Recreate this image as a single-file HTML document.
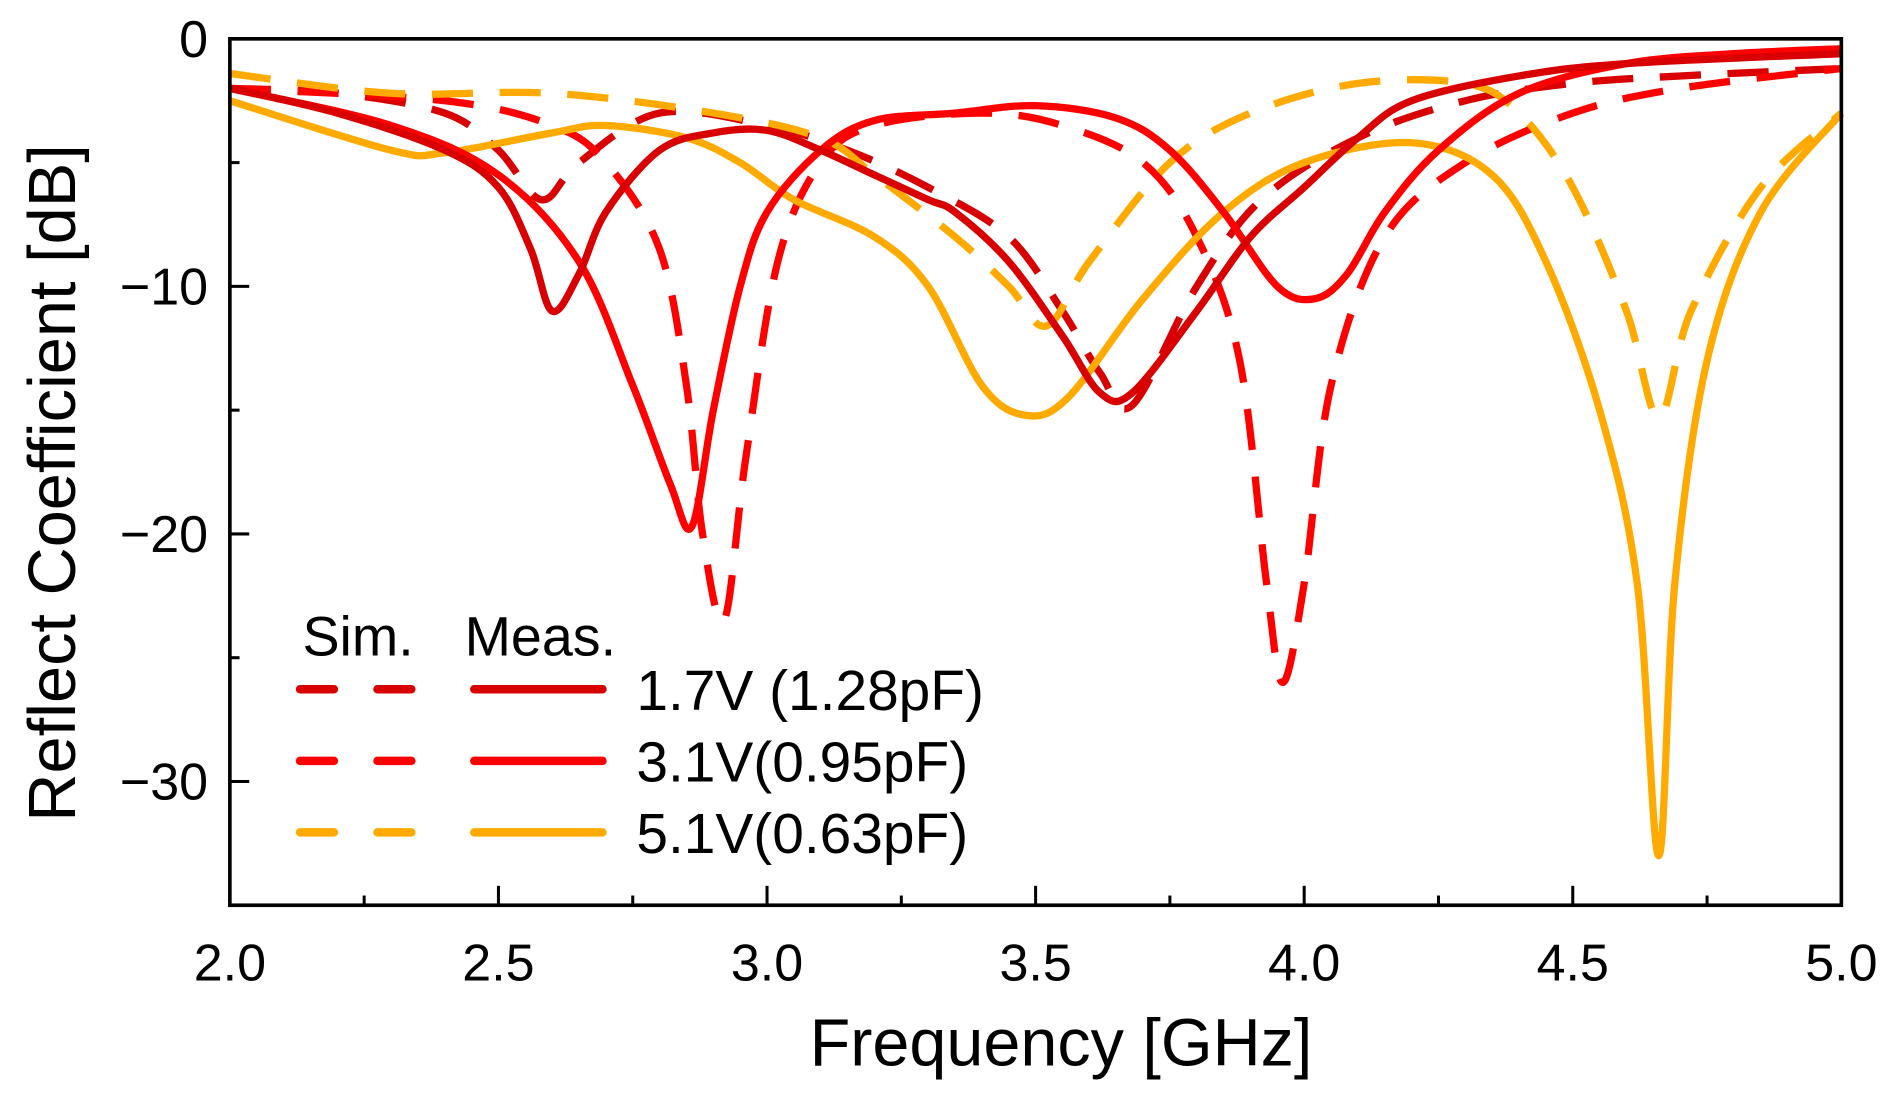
<!DOCTYPE html>
<html><head><meta charset="utf-8"><style>
html,body{margin:0;padding:0;background:#fff;}
svg{display:block;}
text{font-family:"Liberation Sans",sans-serif;fill:#000;}
</style></head><body>
<svg id="chart" width="1897" height="1100" viewBox="0 0 1568 906.5" preserveAspectRatio="none" xmlns="http://www.w3.org/2000/svg">
<g id="series"></g>
<rect x="190" y="32" width="1332" height="714" fill="none" stroke="#000" stroke-width="3"/>
<g id="ticks"></g>
<text transform="translate(62,398) rotate(-90)" text-anchor="middle" font-size="55">Reflect Coefficient [dB]</text>
<text x="877" y="878" text-anchor="middle" font-size="55">Frequency [GHz]</text>
<g>
<text x="250" y="540" font-size="46">Sim.</text>
<text x="384" y="540" font-size="46">Meas.</text>
<g>
<line x1="248" y1="568" x2="358" y2="568" stroke="#d80000" stroke-width="7" stroke-linecap="round" stroke-dasharray="28,36"/>
<line x1="392" y1="568" x2="498" y2="568" stroke="#d80000" stroke-width="7" stroke-linecap="round"/>
<text x="526" y="585" font-size="47">1.7V (1.28pF)</text></g>
<g>
<line x1="248" y1="627" x2="358" y2="627" stroke="#ff0000" stroke-width="7" stroke-linecap="round" stroke-dasharray="28,36"/>
<line x1="392" y1="627" x2="498" y2="627" stroke="#ff0000" stroke-width="7" stroke-linecap="round"/>
<text x="526" y="644" font-size="47">3.1V(0.95pF)</text></g>
<g>
<line x1="248" y1="686" x2="358" y2="686" stroke="#ffaa00" stroke-width="7" stroke-linecap="round" stroke-dasharray="28,36"/>
<line x1="392" y1="686" x2="498" y2="686" stroke="#ffaa00" stroke-width="7" stroke-linecap="round"/>
<text x="526" y="703" font-size="47">5.1V(0.63pF)</text></g>
</g>
</svg>
<script>
const xTicks = [2.0, 2.5, 3.0, 3.5, 4.0, 4.5, 5.0];
const yTicks = [0, -10, -20, -30];
const yTickLabels = ["0", "\u221210", "\u221220", "\u221230"];

const sim17F = [2.0,2.2,2.4,2.5,2.58,2.65,2.8,3.0,3.15,3.3,3.45,3.55,3.62,3.68,3.8,3.92,4.1,4.3,4.5,4.7,5.0];
const sim17V = [-2,-2.2,-3,-4.5,-6.5,-5,-3,-3.5,-4.5,-6,-8,-11,-13.5,-14.8,-10,-6.5,-4,-2.5,-1.8,-1.5,-1.2];
const meas17F = [2.0,2.2,2.4,2.5,2.56,2.6,2.65,2.7,2.8,2.9,3.0,3.1,3.2,3.3,3.35,3.45,3.55,3.62,3.68,3.8,3.9,4.0,4.1,4.2,4.4,4.6,5.0];
const meas17V = [-2,-3,-4.5,-6,-8.5,-11,-9.5,-7,-4.5,-3.8,-3.7,-4.5,-5.5,-6.5,-7,-9,-12,-14.3,-14.3,-11,-8,-6,-4,-2.5,-1.5,-1,-0.6];
const sim31F = [2.0,2.4,2.6,2.7,2.8,2.85,2.88,2.92,2.96,3.02,3.1,3.2,3.4,3.55,3.7,3.8,3.88,3.93,3.96,4.0,4.05,4.15,4.3,4.5,4.7,5.0];
const sim31V = [-2,-2.5,-3.5,-5,-8.5,-14,-20,-23.5,-17,-9,-5,-3.5,-3,-3.5,-5,-8,-13,-22,-26,-22,-14,-8,-5,-3,-2,-1.2];
const meas31F = [2.0,2.3,2.5,2.65,2.75,2.82,2.86,2.9,2.95,3.0,3.1,3.2,3.35,3.5,3.65,3.75,3.85,3.95,4.02,4.08,4.15,4.25,4.4,4.6,4.8,5.0];
const meas31V = [-2,-3.5,-5.5,-9,-14,-18,-19.7,-15,-10,-7,-4.5,-3.3,-3,-2.7,-3.2,-4.5,-7,-10,-10.5,-9.5,-7,-4.5,-2.2,-1,-0.6,-0.4];
const sim51F = [2.0,2.3,2.6,2.9,3.1,3.2,3.35,3.45,3.52,3.6,3.75,3.9,4.1,4.3,4.4,4.5,4.6,4.66,4.72,4.85,5.0];
const sim51V = [-1.4,-2.2,-2.2,-3,-4,-5.5,-8,-10,-11.6,-9,-5,-3,-1.8,-1.8,-3,-6,-11,-15.3,-11,-6,-3];
const meas51F = [2.0,2.3,2.4,2.6,2.7,2.85,2.95,3.05,3.2,3.3,3.4,3.48,3.56,3.7,3.85,4.0,4.2,4.35,4.45,4.55,4.62,4.66,4.69,4.75,4.85,5.0];
const meas51V = [-2.5,-4.5,-4.6,-3.8,-3.5,-4,-5,-6.5,-8,-10,-14,-15.2,-14.5,-10.5,-7,-5,-4.2,-5.5,-9,-15,-22,-33,-22,-13,-7,-3];

const NS = "http://www.w3.org/2000/svg";
const xs = f => 190 + (f - 2) / 3 * 1332;
const ys = v => 32 + (-v) / 35 * 714;

function path(F, V) {
  const p = F.map((f, i) => [xs(f), ys(V[i])]);
  let d = "M" + p[0][0] + "," + p[0][1];
  for (let i = 0; i < p.length - 1; i++) {
    const p0 = p[Math.max(0, i - 1)], p1 = p[i], p2 = p[i + 1], p3 = p[Math.min(p.length - 1, i + 2)];
    const c1 = [p1[0] + (p2[0] - p0[0]) / 6, p1[1] + (p2[1] - p0[1]) / 6];
    const c2 = [p2[0] - (p3[0] - p1[0]) / 6, p2[1] - (p3[1] - p1[1]) / 6];
    d += " C" + c1 + " " + c2 + " " + p2;
  }
  return d;
}
const g = document.getElementById("series");
function addSeries(name, F, V, color, dashed) {
  const el = document.createElementNS(NS, "path");
  el.setAttribute("d", path(F, V));
  el.setAttribute("fill", "none");
  el.setAttribute("stroke", color);
  el.setAttribute("stroke-width", "6");
  el.setAttribute("stroke-linejoin", "round");
  if (dashed) el.setAttribute("stroke-dasharray", "34,22");
  
  
  g.appendChild(el);
}
addSeries("sim-1.7v-line", sim17F, sim17V, "#d80000", true);
addSeries("sim-3.1v-line", sim31F, sim31V, "#ff0000", true);
addSeries("sim-5.1v-line", sim51F, sim51V, "#ffaa00", true);
addSeries("meas-5.1v-line", meas51F, meas51V, "#ffaa00", false);
addSeries("meas-3.1v-line", meas31F, meas31V, "#ff0000", false);
addSeries("meas-1.7v-line", meas17F, meas17V, "#d80000", false);

const t = document.getElementById("ticks");
function ln(x1, y1, x2, y2) {
  const l = document.createElementNS(NS, "line");
  l.setAttribute("x1", x1); l.setAttribute("y1", y1); l.setAttribute("x2", x2); l.setAttribute("y2", y2);
  l.setAttribute("stroke", "#000"); l.setAttribute("stroke-width", "2.5");
  
  
  t.appendChild(l);
}
for (let f = 2.25; f < 5; f += 0.25) {
  const major = Math.abs(f * 2 - Math.round(f * 2)) < 1e-6;
  ln(xs(f), 746, xs(f), 746 - (major ? 16 : 8));
}
for (let v = -5; v > -35; v -= 5) {
  const major = v % 10 === 0;
  ln(190, ys(v), 190 + (major ? 16 : 8), ys(v));
}
xTicks.forEach(f => {
  const tx = document.createElementNS(NS, "text");
  tx.setAttribute("x", xs(f)); tx.setAttribute("y", 808);
  tx.setAttribute("text-anchor", "middle"); tx.setAttribute("font-size", "43");
  tx.textContent = f.toFixed(1);
  
  
  t.appendChild(tx);
});
yTicks.forEach((v, i) => {
  const tx = document.createElementNS(NS, "text");
  tx.setAttribute("x", 172); tx.setAttribute("y", ys(v) + 15);
  tx.setAttribute("text-anchor", "end"); tx.setAttribute("font-size", "43");
  tx.textContent = yTickLabels[i];
  
  
  t.appendChild(tx);
});
</script>
</body></html>
